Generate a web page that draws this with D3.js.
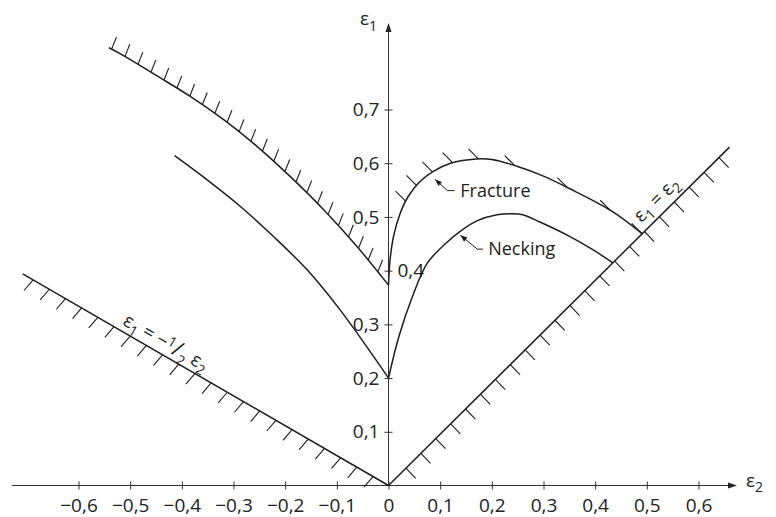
<!DOCTYPE html>
<html><head><meta charset="utf-8">
<script src="https://cdn.jsdelivr.net/npm/d3@7"></script>
<style>
body{margin:0;background:#fff}
svg{display:block}
text{font-family:"Open Sans",sans-serif;fill:#222}
</style>
</head><body>
<svg id="c" width="776" height="517"></svg>
<script>
// ---- data (e2, e1) ----
const xTicks = [-0.6,-0.5,-0.4,-0.3,-0.2,-0.1,0,0.1,0.2,0.3,0.4,0.5,0.6];
const yTicksLeft = [0.1,0.2,0.3,0.5,0.6,0.7];
const yTicksRight = [0.4];
const fracture = [[0,0.373],[0.003,0.42],[0.010,0.465],[0.022,0.505],[0.038,0.538],[0.060,0.565],[0.085,0.584],[0.12,0.600],[0.17,0.608],[0.20,0.607],[0.25,0.594],[0.30,0.576],[0.35,0.553],[0.43,0.512],[0.492,0.468]];
const necking = [[0,0.2],[0.020,0.277],[0.046,0.351],[0.075,0.414],[0.11,0.450],[0.14,0.474],[0.172,0.493],[0.21,0.504],[0.24,0.506],[0.26,0.504],[0.294,0.490],[0.346,0.466],[0.397,0.438],[0.435,0.414]];
const outerLeft = [[-0.541,0.815],[-0.512,0.800],[-0.447,0.762],[-0.383,0.724],[-0.319,0.681],[-0.254,0.631],[-0.190,0.575],[-0.125,0.513],[-0.061,0.445],[0,0.373]];
const innerLeft = [[-0.414,0.614],[-0.351,0.569],[-0.286,0.519],[-0.222,0.463],[-0.157,0.401],[-0.093,0.326],[-0.028,0.239],[0,0.2]];
const halfLine = [[-0.708,0.394],[0,0]];
const equalLine = [[0,0],[0.66,0.63]];
const fractureHatchAt = [0.033,0.054,0.085,0.124,0.174,0.244,0.346,0.429,0.490];
const fractureArrow = [[0.128,0.549],[0.114,0.549],[0.090,0.570]];
const neckingArrow = [[0.183,0.44],[0.172,0.44],[0.139,0.466]];
const fractureLabelAt = [0.139,0.537];
const neckingLabelAt = [0.193,0.43];

const svg = d3.select("#c");
const x = d3.scaleLinear().domain([0,0.6]).range([388.5,698.5]);
const y = d3.scaleLinear().domain([0,0.7]).range([485.5,109.5]);
const ink = "#1e1e1e";
const TF = 19;

// ---- axes ----
const fmt = d => d === 0 ? "0" : d3.format(".1f")(d).replace(".", ",");
function styleAxis(g){
  g.select(".domain").remove();
  g.attr("font-size",TF).attr("font-family","Open Sans, sans-serif").style("color","#333");
}
const gx = svg.append("g").attr("transform", `translate(0,${y(0)-4})`)
  .call(d3.axisBottom(x).tickValues(xTicks).tickSize(8).tickPadding(9.5).tickFormat(fmt));
styleAxis(gx);
const gyl = svg.append("g").attr("transform", `translate(${x(0)+4},0)`)
  .call(d3.axisLeft(y).tickValues(yTicksLeft).tickSize(8).tickPadding(5).tickFormat(fmt));
styleAxis(gyl);
const gyr = svg.append("g").attr("transform", `translate(${x(0)-4},0)`)
  .call(d3.axisRight(y).tickValues(yTicksRight).tickSize(8).tickPadding(5).tickFormat(fmt));
styleAxis(gyr);
svg.selectAll(".tick text").style("fill","#222");

// axis lines with arrows
svg.append("line").attr("x1",12).attr("x2",733).attr("y1",y(0)).attr("y2",y(0)).attr("stroke","#333").attr("stroke-width",1);
svg.append("path").attr("d",`M737,${y(0)} L728,${y(0)-3} L728,${y(0)+3} Z`).attr("fill","#222");
svg.append("line").attr("x1",x(0)).attr("x2",x(0)).attr("y1",y(0)).attr("y2",27).attr("stroke","#333").attr("stroke-width",1);
svg.append("path").attr("d",`M${x(0)},23 L${x(0)-3},32 L${x(0)+3},32 Z`).attr("fill","#222");

// axis titles
function rich(g, segs, size) {
  const t = g.append("text").attr("font-size", size);
  let prev = 0;
  segs.forEach(s => {
    const sh = s.shift || 0;
    t.append("tspan").attr("dy", sh - prev).attr("font-size", s.size || size).text(s.t);
    prev = sh;
  });
  return t;
}
rich(svg, [{t:"ε"},{t:"1",shift:6,size:14}], 19).attr("x",360).attr("y",25);
rich(svg, [{t:"ε"},{t:"2",shift:5,size:14}], 19).attr("x",746).attr("y",487);

// ---- curves ----
const line = d3.line().x(d => x(d[0])).y(d => y(d[1])).curve(d3.curveCatmullRom.alpha(0.5));
const straight = d3.line().x(d => x(d[0])).y(d => y(d[1]));
function drawPath(gen, data) {
  return svg.append("path").attr("d", gen(data)).attr("fill","none").attr("stroke",ink).attr("stroke-width",1.5);
}
const pOuter = drawPath(line, outerLeft);
drawPath(line, innerLeft);
const pFrac = drawPath(line, fracture);
drawPath(line, necking);
const pHalf = drawPath(straight, halfLine);
const pEq = drawPath(straight, equalLine);

// ---- hatches ----
function hatchAt(node, lengths, dir, len) {
  const n = Math.hypot(dir[0], dir[1]);
  const ux = dir[0]/n, uy = dir[1]/n;
  lengths.forEach(L => {
    const p = node.getPointAtLength(L);
    svg.append("line").attr("x1",p.x).attr("y1",p.y).attr("x2",p.x+ux*len).attr("y2",p.y+uy*len)
      .attr("stroke",ink).attr("stroke-width",1.1);
  });
}
function evenly(node, start, step, endPad) {
  const tot = node.getTotalLength();
  const arr = [];
  for (let L = start; L <= tot - endPad; L += step) arr.push(L);
  return arr;
}
function lengthAtX(node, px) {
  let lo = 0, hi = node.getTotalLength();
  for (let i = 0; i < 40; i++) {
    const mid = (lo+hi)/2;
    if (node.getPointAtLength(mid).x < px) lo = mid; else hi = mid;
  }
  return (lo+hi)/2;
}
const nOuter = pOuter.node();
hatchAt(nOuter, evenly(nOuter, 3, 15.2, 2), [0.37,-0.93], 13);
const nHalf = pHalf.node();
hatchAt(nHalf, evenly(nHalf, 12, 18.7, 10), [-0.65,0.76], 14);
const nEq = pEq.node();
hatchAt(nEq, evenly(nEq, 24.6, 21, 8), [0.69,0.72], 14);
const nFrac = pFrac.node();
hatchAt(nFrac, fractureHatchAt.map(v => lengthAtX(nFrac, x(v))), [-0.71,-0.71], 14);

// ---- annotations ----
function arrow(data) {
  svg.append("path").attr("d", straight(data)).attr("fill","none").attr("stroke",ink).attr("stroke-width",1);
  const a = data[data.length-2], b = data[data.length-1];
  const bx = x(b[0]), by = y(b[1]);
  const ang = Math.atan2(by - y(a[1]), bx - x(a[0]));
  const L = 7, W = 2.6;
  const cx = bx - L*Math.cos(ang), cy = by - L*Math.sin(ang);
  svg.append("path").attr("d", `M${bx},${by} L${cx - W*Math.sin(ang)},${cy + W*Math.cos(ang)} L${cx + W*Math.sin(ang)},${cy - W*Math.cos(ang)} Z`).attr("fill",ink);
}
arrow(fractureArrow);
arrow(neckingArrow);
svg.append("text").attr("x", x(fractureLabelAt[0])).attr("y", y(fractureLabelAt[1])).attr("font-size",18).text("Fracture");
svg.append("text").attr("x", x(neckingLabelAt[0])).attr("y", y(neckingLabelAt[1])).attr("font-size",18).text("Necking");

function lineLabel(data, t, off, segs) {
  const x0 = x(data[0][0]), y0 = y(data[0][1]), x1 = x(data[1][0]), y1 = y(data[1][1]);
  const ang = Math.atan2(y1-y0, x1-x0);
  const dx = Math.cos(ang), dy = Math.sin(ang);
  const px = x0 + (x1-x0)*t + dy*off, py = y0 + (y1-y0)*t - dx*off;
  rich(svg, segs, 19).attr("text-anchor","middle")
    .attr("transform", `translate(${px},${py}) rotate(${ang*180/Math.PI})`);
}
lineLabel(halfLine, 0.375, 6, [{t:"ε"},{t:"1",shift:5,size:14},{t:" = −",shift:0},{t:"1",shift:-5,size:14},{t:"/",shift:1,size:22},{t:"2",shift:7,size:14},{t:" ε",shift:0},{t:"2",shift:5,size:14}]);
lineLabel(equalLine, 0.815, 8, [{t:"ε"},{t:"1",shift:5,size:14},{t:" = ε",shift:0},{t:"2",shift:5,size:14}]);
</script>
</body></html>
